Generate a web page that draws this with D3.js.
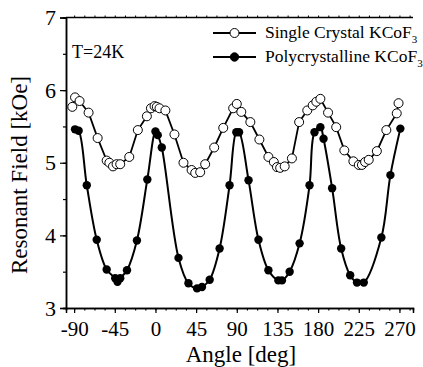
<!DOCTYPE html>
<html>
<head>
<meta charset="utf-8">
<script src="https://cdn.jsdelivr.net/npm/d3@7"></script>
<style>
  body { margin: 0; background: #fff; }
  svg text { font-family: "Liberation Serif", "DejaVu Serif", serif; fill: #000; }
</style>
</head>
<body>
<svg id="chart" width="423" height="367"></svg>
<script>
// single crystal KCoF3 (open circles)
var singleAngle = [-92, -89, -84, -74, -64, -54, -51, -47, -43, -39, -29, -19.5, -9.5, -5, -1, 1.5, 4.5, 11, 21, 31, 40, 44, 49.5, 55, 65, 75, 86, 90, 95, 105, 115, 125, 131, 134.5, 138, 143, 151, 159, 168, 174, 178, 182.5, 191, 200, 209, 219, 225, 228.5, 232, 236, 245, 255.5, 267, 269]
var singleField = [5.77, 5.90, 5.85, 5.69, 5.34, 5.03, 5.00, 4.95, 4.98, 4.98, 5.08, 5.45, 5.64, 5.75, 5.78, 5.77, 5.75, 5.72, 5.39, 5.00, 4.90, 4.86, 4.87, 4.98, 5.21, 5.48, 5.75, 5.81, 5.70, 5.56, 5.32, 5.08, 5.01, 4.94, 4.93, 4.95, 5.06, 5.56, 5.72, 5.79, 5.84, 5.88, 5.69, 5.49, 5.17, 5.02, 4.97, 4.97, 5.01, 5.04, 5.16, 5.45, 5.68, 5.82]

// polycrystalline KCoF3 (filled circles)
var polyAngle = [-89, -85, -76, -65, -54, -44.5, -42, -39, -31.5, -20.5, -9, 0, 2.5, 7, 25.5, 36.5, 46, 51.5, 60, 71, 82, 89.5, 92.5, 103, 114, 125, 136, 140, 148.5, 159.5, 170.5, 176, 182.5, 186, 195.5, 205.5, 215.5, 223, 230.5, 250, 260, 271]
var polyField = [5.46, 5.44, 4.69, 3.94, 3.53, 3.41, 3.36, 3.41, 3.52, 3.93, 4.77, 5.43, 5.38, 5.21, 3.69, 3.34, 3.27, 3.29, 3.39, 3.82, 4.69, 5.42, 5.42, 4.76, 3.94, 3.52, 3.38, 3.38, 3.50, 3.89, 4.69, 5.42, 5.49, 5.33, 4.65, 3.82, 3.45, 3.35, 3.35, 3.97, 4.83, 5.47]

var xTicks = [-90, -45, 0, 45, 90, 135, 180, 225, 270]
var yTicks = [3, 4, 5, 6, 7]
var seriesNames = ["Single Crystal KCoF", "Polycrystalline KCoF"]
var tempLabel = "T=24K"

var serif = "'Liberation Serif', 'DejaVu Serif', serif"
var svg = d3.select("#chart")
var pLeft = 66, pRight = 413, pTop = 17.5, pBottom = 308

var x = d3.scaleLinear().domain([-99, 285]).range([pLeft, pRight])
var y = d3.scaleLinear().domain([3, 7]).range([pBottom, pTop])

// frame: top line
svg.append("line")
  .attr("x1", pLeft).attr("x2", pRight)
  .attr("y1", pTop).attr("y2", pTop)
  .attr("stroke", "#000").attr("stroke-width", 1.5)

var xMinor = d3.range(-90, 285, 11.25)
var yMinor = d3.range(3, 7.01, 0.5)

// bottom axis
var xAxis = svg.append("g").attr("transform", `translate(0,${pBottom})`)
xAxis.call(d3.axisBottom(x).tickValues(xMinor).tickSize(2.5).tickFormat(""))
xAxis.append("g").call(d3.axisBottom(x).tickValues(xTicks).tickSize(5).tickFormat(d => d))
xAxis.selectAll(".domain").attr("stroke-width", 1.5)
xAxis.selectAll("line").attr("stroke-width", 1.2)
xAxis.selectAll("g").attr("font-family", serif)
xAxis.selectAll("text").attr("font-size", 21).attr("dy", "0.95em")

// top minor ticks
svg.append("g").attr("transform", `translate(0,${pTop})`)
  .call(d3.axisTop(x).tickValues(xMinor).tickSize(2).tickFormat(""))
  .call(g => g.select(".domain").remove())

// left axis
var yAxis = svg.append("g").attr("transform", `translate(${pLeft},0)`)
yAxis.call(d3.axisLeft(y).tickValues(yMinor).tickSize(3).tickFormat(""))
yAxis.append("g").call(d3.axisLeft(y).tickValues(yTicks).tickSize(6).tickFormat(d => d))
yAxis.selectAll(".domain").attr("stroke-width", 1.5)
yAxis.selectAll("line").attr("stroke-width", 1.2)
yAxis.selectAll("g").attr("font-family", serif)
yAxis.selectAll("text").attr("font-size", 22).attr("dx", "-0.05em")

// lines
var lineSingle = d3.line().x(d => x(d[0])).y(d => y(d[1]))
var linePoly = d3.line().x(d => x(d[0])).y(d => y(d[1])).curve(d3.curveCatmullRom.alpha(0.5))

var singleData = singleAngle.map((a, i) => [a, singleField[i]])
var polyData = polyAngle.map((a, i) => [a, polyField[i]])

svg.append("path").datum(polyData)
  .attr("d", linePoly).attr("fill", "none").attr("stroke", "#000").attr("stroke-width", 2)

svg.append("path").datum(singleData)
  .attr("d", lineSingle).attr("fill", "none").attr("stroke", "#000").attr("stroke-width", 1.8)

svg.selectAll(".poly").data(polyData).join("circle")
  .attr("class", "poly")
  .attr("cx", d => x(d[0])).attr("cy", d => y(d[1])).attr("r", 4.2)
  .attr("fill", "#000")

svg.selectAll(".single").data(singleData).join("circle")
  .attr("class", "single")
  .attr("cx", d => x(d[0])).attr("cy", d => y(d[1])).attr("r", 4.5)
  .attr("fill", "#fff").attr("stroke", "#000").attr("stroke-width", 1)

// axis titles
svg.append("text").attr("x", 241).attr("y", 362)
  .attr("text-anchor", "middle").attr("font-size", 23).attr("font-family", serif)
  .text("Angle [deg]")

svg.append("text").attr("transform", "translate(27,175) rotate(-90)")
  .attr("text-anchor", "middle").attr("font-size", 23).attr("font-family", serif)
  .text("Resonant Field [kOe]")

// temperature label
svg.append("text").attr("x", 72).attr("y", 58).attr("font-size", 18).attr("font-family", serif).text(tempLabel)

// legend
var legend = svg.append("g").attr("font-family", serif)
seriesNames.forEach((name, i) => {
  var ly = 33 + i * 24
  legend.append("line").attr("x1", 213).attr("x2", 256).attr("y1", ly).attr("y2", ly)
    .attr("stroke", "#000").attr("stroke-width", 2)
  legend.append("circle").attr("cx", 234.5).attr("cy", ly).attr("r", i == 0 ? 4.5 : 4.2)
    .attr("fill", i == 0 ? "#fff" : "#000").attr("stroke", "#000").attr("stroke-width", 1)
  var t = legend.append("text").attr("x", 265).attr("y", ly + 5).attr("font-size", 17.5).text(name)
  t.append("tspan").attr("font-size", 11).attr("dy", 5).text("3")
})
</script>
</body>
</html>
